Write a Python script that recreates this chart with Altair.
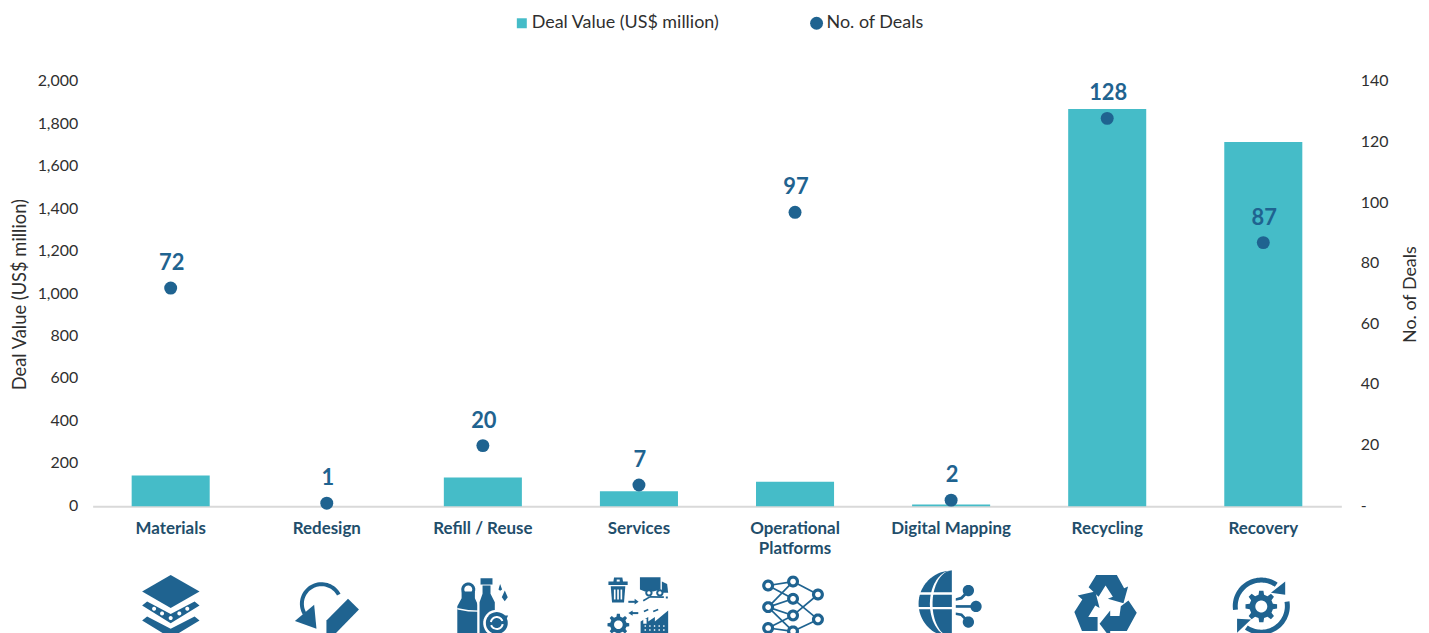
import math
import altair as alt
import pandas as pd

categories = ["Materials", "Redesign", "Refill / Reuse", "Services",
              "Operational Platforms", "Digital Mapping", "Recycling", "Recovery"]
deal_value = [145, 0, 135, 70, 115, 8, 1873, 1717]
deal_count = [72, 1, 20, 7, 97, 2, 128, 87]
left_ticks = [0, 200, 400, 600, 800, 1000, 1200, 1400, 1600, 1800, 2000]
right_ticks = [0, 20, 40, 60, 80, 100, 120, 140]

TEAL = "#45BCC8"
BLUE = "#1F6390"
WHITE = "#FFFFFF"
TEXT = "#2F2F2F"
LABEL = "#1F4E6B"
DEAL_NAME = "Deal Value (US$ million)"
COUNT_NAME = "No. of Deals"
SQUARE = "M-0.77,-0.77H0.77V0.77H-0.77Z"

# ---- icon glyphs: drawn in the 3x crop coordinates, normalised to a unit symbol box ----
ICON_BOX = 32.0
ICON_ROWS = []


class Glyph:
    def __init__(self, cat, ox, cx, oy=570, cy=606):
        self.cat, self.ox, self.cx, self.oy, self.cy = cat, ox, cx, oy, cy

    def _pt(self, x, y):
        px = (x / 3 + self.ox - self.cx) / ICON_BOX
        py = (y / 3 + self.oy - self.cy) / ICON_BOX
        return f"{px:.3f},{py:.3f}"

    def poly(self, pts, fill=BLUE):
        d = "M" + "L".join(self._pt(x, y) for x, y in pts) + "Z"
        ICON_ROWS.append({"category": self.cat, "path": d, "fill": fill})

    def circle(self, x, y, r, fill=BLUE, ry=None, a0=0, a1=360):
        ry = r if ry is None else ry
        n = 48
        pts = [(x + r * math.cos(math.radians(a0 + (a1 - a0) * i / n)),
                y + ry * math.sin(math.radians(a0 + (a1 - a0) * i / n))) for i in range(n + 1)]
        self.poly(pts, fill)

    def ring(self, x, y, r, hole):
        self.circle(x, y, r)
        self.circle(x, y, hole, WHITE)

    def arc(self, x, y, r, t, a0, a1, fill=BLUE):
        n = 40
        outer = [(x + r * math.cos(math.radians(a0 + (a1 - a0) * i / n)),
                  y + r * math.sin(math.radians(a0 + (a1 - a0) * i / n))) for i in range(n + 1)]
        inner = [(x + (r - t) * math.cos(math.radians(a1 - (a1 - a0) * i / n)),
                  y + (r - t) * math.sin(math.radians(a1 - (a1 - a0) * i / n))) for i in range(n + 1)]
        self.poly(outer + inner, fill)

    def line(self, x0, y0, x1, y1, t, fill=BLUE):
        dx, dy = x1 - x0, y1 - y0
        length = math.hypot(dx, dy) or 1
        nx, ny = -dy / length * t / 2, dx / length * t / 2
        self.poly([(x0 + nx, y0 + ny), (x1 + nx, y1 + ny), (x1 - nx, y1 - ny), (x0 - nx, y0 - ny)], fill)

    def gear(self, x, y, r, root, hole, teeth=8):
        pts = []
        step = 360 / teeth
        for k in range(teeth):
            a = k * step
            for off, rad in ((-0.30, root), (-0.17, r), (0.17, r), (0.30, root)):
                ang = math.radians(a + off * step)
                pts.append((x + rad * math.cos(ang), y + rad * math.sin(ang)))
        self.poly(pts)
        self.circle(x, y, hole, WHITE)


# Materials
g = Glyph(categories[0], 130, 171)
g.poly([(123, 18), (210, 68), (123, 118), (37, 68)])
g.poly([(52, 98), (123, 136), (195, 98), (210, 110), (123, 164), (37, 110)])
g.poly([(52, 143), (123, 180), (195, 143), (210, 155), (123, 208), (37, 155)])
for x, y in [(73, 120), (97, 134), (123, 148), (149, 134), (173, 120)]:
    g.circle(x, y, 6, WHITE)

# Redesign
g = Glyph(categories[1], 130, 327)
g.arc(575, 105, 65, 12, 150, 332)
g.poly([(553, 108), (560, 180), (495, 157)])
g.poly([(655, 90), (688, 122), (612, 200), (590, 195), (590, 155)])

# Refill / Reuse
g = Glyph(categories[2], 440, 483)
g.ring(85, 62, 21, 12)
g.poly([(65, 68), (105, 68), (105, 88), (116, 112), (116, 200), (52, 200), (52, 112), (65, 88)])
g.poly([(52, 118), (85, 124), (116, 125), (116, 129), (85, 128), (52, 122)], WHITE)
g.poly([(112, 100), (122, 70), (158, 70), (170, 100), (170, 200), (112, 200)], WHITE)
g.poly([(122, 28), (158, 28), (158, 47), (122, 47)])
g.poly([(128, 50), (152, 50), (152, 75), (165, 100), (165, 200), (119, 200), (119, 100), (128, 75)])
g.circle(170, 163, 40, WHITE)
g.circle(171, 163, 33)
g.arc(171, 163, 21, 6, 190, 340, WHITE)
g.arc(171, 163, 21, 6, 10, 160, WHITE)
g.poly([(183, 140), (205, 140), (195, 162)])
g.poly([(150, 180), (172, 184), (160, 196)])
g.poly([(181, 45), (187, 62), (181, 66), (176, 62)])
g.poly([(195, 65), (204, 85), (195, 97), (186, 85)])

# Services
g = Glyph(categories[3], 440, 639)
g.poly([(520, 38), (522, 26), (547, 26), (549, 38), (563, 38), (563, 48), (505, 48), (505, 38)])
g.poly([(530, 32), (539, 32), (539, 38), (530, 38)], WHITE)
g.poly([(512, 52), (556, 52), (552, 101), (516, 101)])
for x in (524, 534, 544):
    g.line(x, 62, x, 92, 5, WHITE)
g.poly([(600, 25), (662, 25), (662, 62), (640, 68), (615, 68), (600, 62)])
g.poly([(666, 38), (682, 45), (685, 72), (666, 72)])
g.ring(627, 72, 11, 5)
g.ring(660, 72, 11, 5)
g.line(610, 96, 630, 84, 5)
g.line(630, 84, 672, 85, 5)
g.poly([(678, 83), (684, 83), (684, 89), (678, 89)])
g.line(565, 99, 586, 99, 6)
g.poly([(584, 90), (596, 99), (584, 107)])
g.line(595, 133, 576, 133, 6)
g.poly([(578, 125), (565, 133), (578, 141)])
g.gear(535, 168, 33, 25, 13)
g.poly([(602, 200), (602, 158), (625, 145), (625, 158), (645, 145), (645, 158), (685, 125), (685, 200)])
g.poly([(610, 150), (620, 150), (620, 165), (610, 165)], WHITE)
for x in (616, 630, 644, 658, 672):
    g.circle(x, 172, 2.5, WHITE)
    g.circle(x, 184, 2.5, WHITE)
g.line(612, 128, 625, 122, 5)
g.line(640, 128, 655, 122, 5)

# Operational Platforms
g = Glyph(categories[4], 750, 796)
nodes = {"a": (57, 50), "b": (57, 115), "c": (57, 178), "d": (132, 38), "e": (132, 90),
         "f": (132, 140), "g": (132, 188), "h": (207, 77), "i": (207, 152)}
links = ["ad", "ae", "bd", "be", "bf", "bg", "cf", "cg", "dh", "ei", "fh", "gi"]
for a, b in links:
    g.line(*nodes[a], *nodes[b], 5)
for x, y in nodes.values():
    g.ring(x, y, 18, 8.5)

# Digital Mapping
g = Glyph(categories[5], 750, 951)
g.circle(605, 105, 100, BLUE, None, 90, 270)
g.circle(605, 105, 66, WHITE, 100, 90, 270)
g.circle(605, 105, 58, BLUE, 100, 90, 270)
g.line(500, 74, 606, 74, 7, WHITE)
g.line(500, 118, 606, 118, 7, WHITE)
for x, y in [(655, 65), (678, 113), (655, 160)]:
    g.circle(x, y, 17)
g.poly([(617, 88), (632, 84), (648, 68), (654, 73), (636, 92), (617, 96)])
g.line(617, 113, 670, 113, 8)
g.poly([(617, 131), (636, 134), (654, 153), (648, 158), (632, 142), (617, 139)])

# Recycling
g = Glyph(categories[6], 1060, 1107)
g.poly([(108, 18), (170, 18), (192, 58), (204, 53), (190, 103), (143, 90), (158, 84), (136, 50),
        (115, 84), (85, 55)])
g.poly([(52, 80), (105, 68), (118, 118), (105, 110), (84, 145), (112, 145), (112, 187),
        (65, 187), (42, 130), (66, 92)])
g.poly([(205, 95), (230, 132), (200, 187), (150, 187), (150, 207), (118, 165), (150, 125),
        (150, 142), (178, 142), (182, 112)])

# Recovery
g = Glyph(categories[7], 1060, 1263)
g.arc(603, 112, 86, 15, 172, 305)
g.poly([(675, 38), (675, 78), (632, 72)])
g.arc(603, 112, 86, 15, -10, 125)
g.poly([(530, 150), (572, 152), (530, 192)])
g.gear(603, 113, 48, 36, 18)

bars = pd.DataFrame({"category": categories, "value": deal_value})
dots = pd.DataFrame({"category": categories, "value": deal_count})
icons = pd.DataFrame(ICON_ROWS)

x = alt.X(
    "category:N", sort=categories, title=None,
    scale=alt.Scale(domain=categories, paddingInner=0.5, paddingOuter=0.25, round=False),
    axis=alt.Axis(
        orient="bottom", labelAngle=0, ticks=False, domainColor="#D9D9D9", domainWidth=2,
        labelFont="Lato", labelFontWeight="bold", labelFontSize=17, labelColor=LABEL,
        labelPadding=14, labelLineHeight=20, labelLimit=300,
        labelExpr="datum.label == 'Operational Platforms' ? ['Operational','Platforms'] : datum.label",
    ),
)

legend_color = alt.Color(
    "series:N", title=None,
    scale=alt.Scale(domain=[DEAL_NAME, COUNT_NAME], range=[TEAL, BLUE]),
    legend=alt.Legend(
        orient="none", legendX=422, legendY=-68, direction="horizontal", columns=2,
        columnPadding=88, symbolSize=169, labelFont="Lato", labelFontSize=18, labelColor=TEXT,
        labelOffset=1, labelLimit=400, symbolOpacity=1, symbolStrokeWidth=0, title=None,
    ),
)
legend_shape = alt.Shape(
    "series:N", title=None,
    scale=alt.Scale(domain=[DEAL_NAME, COUNT_NAME], range=[SQUARE, "circle"]),
)

bar_layer = alt.Chart(bars).transform_calculate(series=f"'{DEAL_NAME}'").mark_bar(color=TEAL).encode(
    x=x,
    y=alt.Y("value:Q", title=DEAL_NAME,
            scale=alt.Scale(domain=[0, 2000], nice=False),
            axis=alt.Axis(orient="left", values=left_ticks, ticks=False, domain=False,
                          grid=False, labelExpr="format(datum.value, ',')", labelOffset=-1,
                          labelFont="Lato", labelFontSize=16, labelColor=TEXT,
                          labelPadding=15, titleFont="Lato", titleFontSize=18.4, titleFontWeight="normal",
                          titleColor=TEXT, titlePadding=8)),
)

dot_layer = alt.Chart(dots).transform_calculate(series=f"'{COUNT_NAME}'").mark_point(
    filled=True, opacity=1, size=169
).encode(
    x=x,
    y=alt.Y("value:Q", title=COUNT_NAME,
            scale=alt.Scale(domain=[0, 140], nice=False),
            axis=alt.Axis(orient="right", values=right_ticks, ticks=False, domain=False, grid=False,
                          labelExpr="datum.value === 0 ? '-' : format(datum.value, ',')", labelOffset=-1,
                          labelFont="Lato", labelFontSize=16, labelColor=TEXT, labelPadding=19,
                          titleFont="Lato", titleFontSize=18, titleFontWeight="normal", titleColor=TEXT,
                          titleAngle=270, titlePadding=32)),
    color=legend_color,
    shape=legend_shape,
)

text_layer = alt.Chart(dots).mark_text(
    font="Lato", fontWeight="bold", fontSize=22, color=BLUE, dy=-25, dx=1
).encode(
    x=x,
    y=alt.Y("value:Q", scale=alt.Scale(domain=[0, 140], nice=False), axis=None),
    text=alt.Text("value:Q"),
)

icon_layer = alt.Chart(icons).mark_point(filled=True, opacity=1, size=ICON_BOX * ICON_BOX * 4, clip=False).encode(
    x=x,
    y=alt.value(525),
    shape=alt.Shape("path:N", scale=None, legend=None),
    fill=alt.Fill("fill:N", scale=None, legend=None),
    color=alt.value(BLUE),
)

chart = alt.layer(bar_layer, dot_layer, text_layer, icon_layer).resolve_scale(
    y="independent", color="independent", shape="independent"
).properties(
    width=1254, height=426,
    autosize=alt.AutoSizeParams(type="none"),
    padding={"left": 85, "top": 73, "right": 80, "bottom": 126},
    background="white",
).configure_view(stroke=None)

chart.save("out.html", embed_options={"renderer": "svg", "actions": False})
